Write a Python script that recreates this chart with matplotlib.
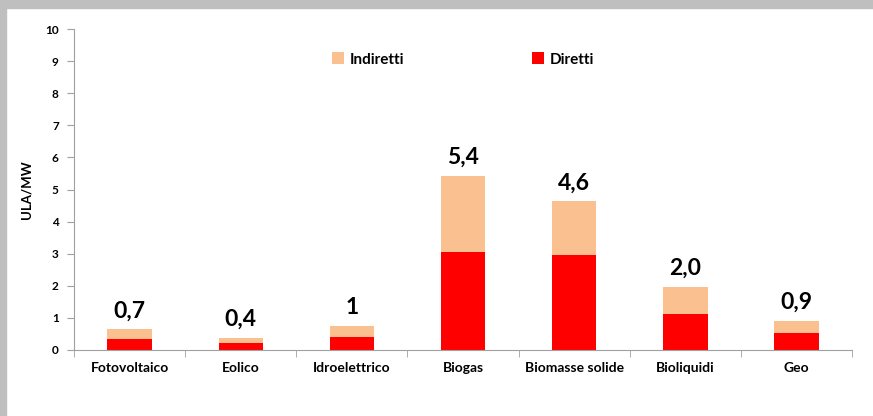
import matplotlib.pyplot as plt
from matplotlib.patches import Rectangle
import numpy as np

plt.rcParams['font.family'] = ['Lato', 'DejaVu Sans']

categorie = ['Fotovoltaico', 'Eolico', 'Idroelettrico', 'Biogas',
             'Biomasse solide', 'Bioliquidi', 'Geo']
diretti = [0.35, 0.22, 0.41, 3.05, 2.97, 1.12, 0.53]
totale = [0.64, 0.37, 0.75, 5.42, 4.63, 1.96, 0.90]
etichette = ['0,7', '0,4', '1', '5,4', '4,6', '2,0', '0,9']
indiretti = [t - d for t, d in zip(totale, diretti)]

fig = plt.figure(figsize=(8.73, 4.16), dpi=100)
# grey frame of the slide
fig.patches.append(Rectangle((0, 1 - 8/416), 1, 8/416, transform=fig.transFigure,
                             color='#bfbfbf', zorder=0))
fig.patches.append(Rectangle((0, 0), 6/873, 1, transform=fig.transFigure,
                             color='#bfbfbf', zorder=0))

ax = fig.add_axes([0.0848, 0.1587, 0.8912, 0.7715])
x = np.arange(len(categorie))
ax.bar(x, diretti, 0.4, color='#ff0000', label='Diretti', zorder=2)
ax.bar(x, indiretti, 0.4, bottom=diretti, color='#fac090', label='Indiretti', zorder=2)

for xi, t, lab in zip(x, totale, etichette):
    ax.text(xi, t + 0.25, lab, ha='center', va='bottom', fontsize=16.5, fontweight='bold')

ax.set_xlim(-0.5, len(categorie) - 0.5)
ax.set_ylim(0, 10)
ax.set_yticks(range(0, 11))
ax.set_xticks(x)
ax.set_xticklabels(categorie, fontsize=10, fontweight='bold')
ax.set_xticks(np.arange(-0.5, len(categorie)), minor=True)
ax.tick_params(axis='x', which='major', length=0, pad=9)
ax.tick_params(axis='x', which='minor', length=5, color='#a0a0a0')
ax.tick_params(axis='y', length=5, color='#a0a0a0', labelsize=8.5, pad=6)
for lab in ax.get_yticklabels():
    lab.set_fontweight('bold')
ax.set_ylabel('ULA/MW', fontsize=9.5, fontweight='bold', labelpad=9)

for s in ['top', 'right']:
    ax.spines[s].set_visible(False)
for s in ['left', 'bottom']:
    ax.spines[s].set_color('#a0a0a0')

h, l = ax.get_legend_handles_labels()
ax.legend(h[::-1], l[::-1], ncol=2, frameon=False, loc='center',
          bbox_to_anchor=(0.5, 0.905), columnspacing=8.4, handlelength=0.8,
          handleheight=0.8, handletextpad=0.35, prop={'weight': 'bold', 'size': 11})

fig.savefig('out.png', dpi=100)
